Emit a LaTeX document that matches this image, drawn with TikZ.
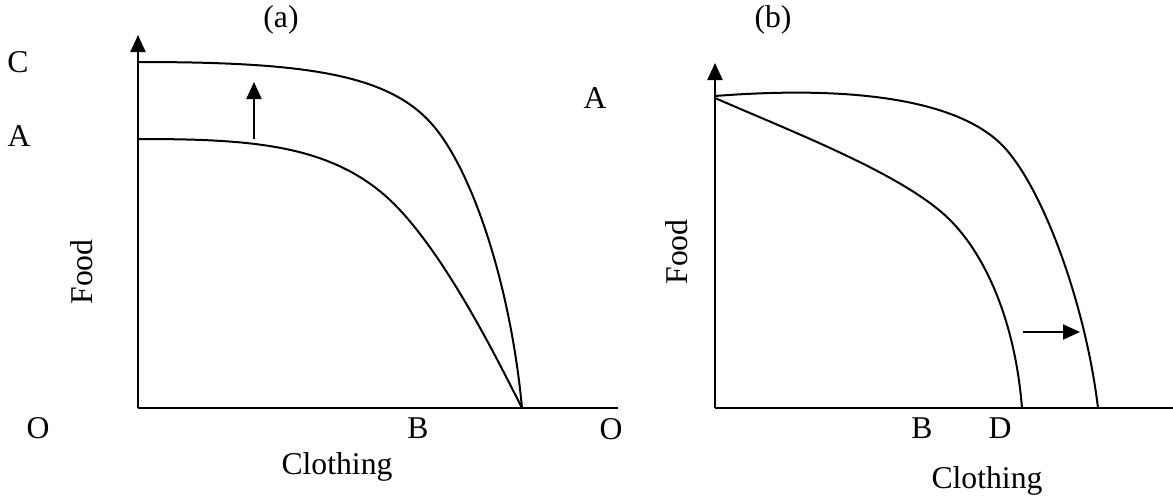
\documentclass[tikz,border=0pt]{standalone}
\usepackage{fontspec}
\setmainfont{Liberation Serif}
\usetikzlibrary{arrows.meta}
\begin{document}
\begin{tikzpicture}[x=1pt,y=-1pt,
  lbl/.style={inner sep=0pt,font=\fontsize{31.7}{38}\selectfont},
  axis/.style={line width=2.2pt,-{Triangle[width=15pt,length=17pt]}},
  plainaxis/.style={line width=2.2pt},
  ppf/.style={line width=2pt},
  shift arrow/.style={line width=2.2pt,-{Triangle[width=15pt,length=17pt]}}]
\useasboundingbox (0,0) rectangle (1173,496);
% panel (a)
\coordinate (Oa) at (138,408);
\coordinate (Ya) at (138,35);
\coordinate (Xa) at (618,408);
\coordinate (Ea) at (522,408);
\draw[axis] (Oa) -- (Ya);
\draw[plainaxis] (Oa) -- (Xa);
\draw[ppf] (138,62) .. controls (300,62) and (385,73) .. (430,122)
  .. controls (470,165) and (510,280) .. (Ea);
\draw[ppf] (138,139) .. controls (250,139) and (330,144) .. (390,200)
  .. controls (445,252) and (500,365) .. (Ea);
\coordinate (ua1) at (254,139);
\coordinate (ua2) at (254,82);
\draw[shift arrow] (ua1) -- (ua2);
\node[lbl] (ta) at (281,20) {(a)};
\node[lbl] (Ca) at (18,62) {C};
\node[lbl] (Aa) at (19,136) {A};
\node[lbl] (OaL) at (38,428) {O};
\node[lbl] (Ba) at (418,428) {B};
\node[lbl] (Ob) at (611,429) {O};
\node[lbl] (clotha) at (337,467) {Clothing};
\node[lbl,rotate=90] (fooda) at (82,272) {Food};
% panel (b)
\coordinate (Obb) at (715,408);
\coordinate (Yb) at (715,63);
\coordinate (Xb) at (1173,408);
\draw[axis] (Obb) -- (Yb);
\draw[plainaxis] (Obb) -- (Xb);
\draw[ppf] (715,96) .. controls (870,84) and (960,105) .. (1000,143)
  .. controls (1040,181) and (1085,300) .. (1098,408);
\draw[ppf] (715,98) .. controls (795,133) and (905,175) .. (950,220)
  .. controls (985,255) and (1015,320) .. (1022,408);
\coordinate (rb1) at (1023,332);
\coordinate (rb2) at (1080,332);
\draw[shift arrow] (rb1) -- (rb2);
\node[lbl] (tb) at (773,20) {(b)};
\node[lbl] (Ab) at (595,98) {A};
\node[lbl] (Bb) at (922,428) {B};
\node[lbl] (Db) at (1000,428) {D};
\node[lbl] (clothb) at (987,481) {Clothing};
\node[lbl,rotate=90] (foodb) at (677,252) {Food};
\end{tikzpicture}
\end{document}
